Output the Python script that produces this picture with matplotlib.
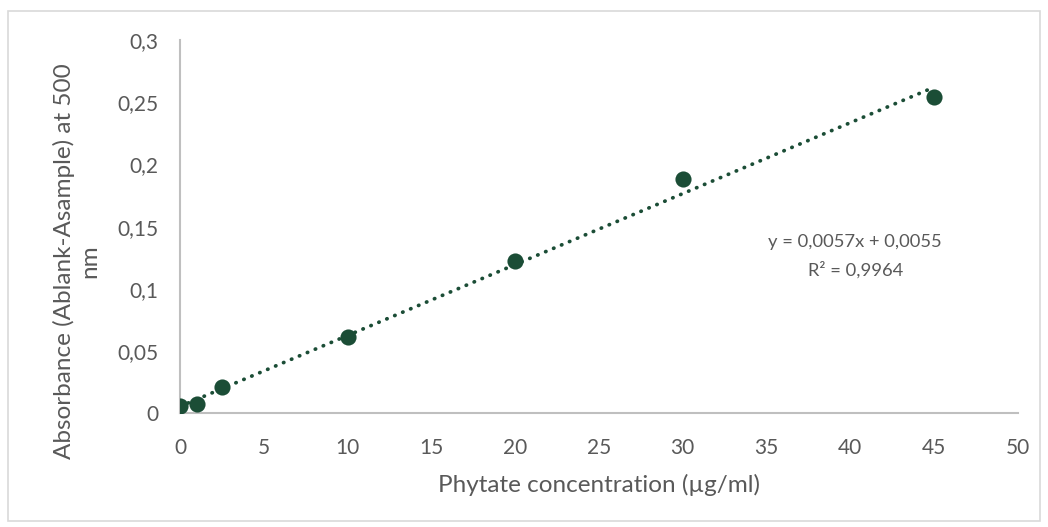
import numpy as np
import matplotlib
matplotlib.use('Agg')
from matplotlib import pyplot as plt
from matplotlib.ticker import FuncFormatter, MultipleLocator
from matplotlib.patches import Rectangle

# Datos de la curva de calibración
concentracion = [0, 1, 2.5, 10, 20, 30, 45]
absorbancia = [0.006, 0.007, 0.021, 0.061, 0.122, 0.188, 0.254]
pendiente = 0.0057
intercepto = 0.0055
r2 = 0.9964

verde = '#1b4d36'
gris = '#595959'

plt.rcParams['font.family'] = ['Lato', 'DejaVu Sans']

fig = plt.figure(figsize=(10.48, 5.27), dpi=100)
ax = fig.add_axes([0.172, 0.216, 0.799, 0.708])

# borde exterior tipo Excel
fig.patches.append(Rectangle((0.008, 0.012), 0.984, 0.968, transform=fig.transFigure,
                             fill=False, edgecolor='#d9d9d9', linewidth=1.2))

ax.scatter(concentracion, absorbancia, s=135, color=verde, zorder=3, linewidths=0)

xt = np.array([0, 45])
ax.plot(xt, pendiente * xt + intercepto, color=verde, linestyle=(0, (0.1, 2.2)),
        linewidth=2.7, dash_capstyle='round', zorder=2)

ax.set_xlim(0, 50)
ax.set_ylim(0, 0.3)
ax.xaxis.set_major_locator(MultipleLocator(5))
ax.yaxis.set_major_locator(MultipleLocator(0.05))

coma = FuncFormatter(lambda v, p: ('%g' % round(v, 4)).replace('.', ','))
ax.xaxis.set_major_formatter(coma)
ax.yaxis.set_major_formatter(coma)

for s in ['top', 'right']:
    ax.spines[s].set_visible(False)
for s in ['left', 'bottom']:
    ax.spines[s].set_color('#bfbfbf')
    ax.spines[s].set_linewidth(1.5)
ax.tick_params(axis='x', length=0, labelsize=15, colors=gris, pad=18)
ax.tick_params(axis='y', length=0, labelsize=15, colors=gris, pad=16)

ax.set_xlabel('Phytate concentration (µg/ml)', fontsize=17.5, color=gris, labelpad=11)
fig.text(0.073, 0.505, 'Absorbance (Ablank-Asample) at 500\nnm', rotation=90,
         ha='center', va='center', multialignment='center', fontsize=17.5, color=gris,
         linespacing=1.2)

ax.text(40.3, 0.138, f'y = {pendiente}x + {intercepto}'.replace('.', ','),
        ha='center', va='center', fontsize=13.2, color=gris)
ax.text(40.3, 0.115, f'R² = {r2}'.replace('.', ','),
        ha='center', va='center', fontsize=13.2, color=gris)

fig.savefig('out.png', dpi=100)
